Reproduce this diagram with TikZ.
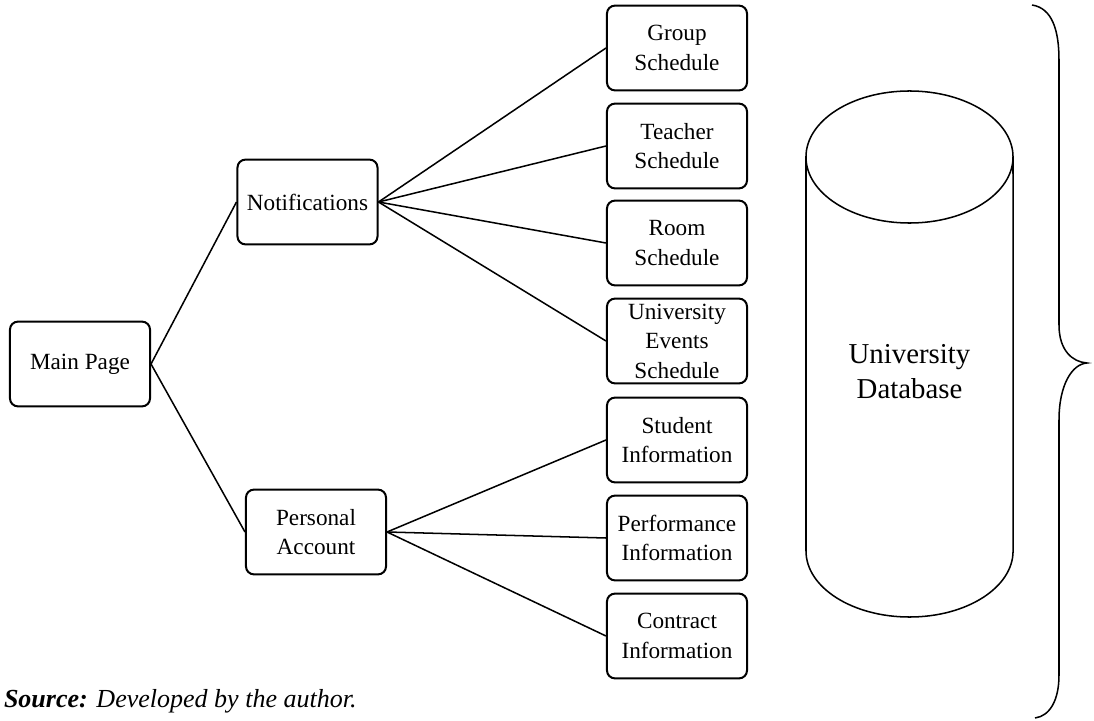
\documentclass[tikz,border=0pt]{standalone}
\usepackage{fontspec}
\setmainfont{Liberation Serif}
\usepackage{tikz}

\begin{document}
\begin{tikzpicture}[x=0.025cm, y=-0.025cm, line width=0.5mm,
    box/.style={draw, rounded corners=2mm, minimum width=3.5cm, minimum height=2.12cm,
      align=center, inner sep=1pt, font=\fontsize{16.5}{21}\selectfont}]
      \useasboundingbox (0,0) rectangle (1094,721);

      \node[box] (main)  at (80,364)  {Main Page};
      \node[box] (notif) at (307.5,202) {Notifications};
      \node[box] (pers)  at (316,532) {Personal\\Account};

      \node[box] (group)    at (677,48)  {Group\\Schedule};
      \node[box] (teacher)  at (677,146) {Teacher\\Schedule};
      \node[box] (room)     at (677,243) {Room\\Schedule};
      \node[box] (events)   at (677,341) {University\\Events\\Schedule};
      \node[box] (student)  at (677,440) {Student\\Information};
      \node[box] (perf)     at (677,538) {Performance\\Information};
      \node[box] (contract) at (677,636) {Contract\\Information};

      \draw[line width=0.38mm] (main.east) edge (notif.west)
               (main.east) edge (pers.west);
      \draw[line width=0.38mm] (notif.east) edge (group.west)
               (notif.east) edge (teacher.west)
               (notif.east) edge (room.west)
               (notif.east) edge (events.west);
      \draw[line width=0.38mm] (pers.east) edge (student.west)
               (pers.east) edge (perf.west)
               (pers.east) edge (contract.west);

      \draw[line width=0.38mm] (909.5,157) ellipse [x radius=2.5875cm, y radius=1.65cm];
      \draw[line width=0.38mm] (806,157) -- (806,551)
            arc[start angle=180, end angle=360, x radius=2.5875cm, y radius=1.65cm]
            -- (1013,157);
      \node[align=center, font=\fontsize{20.5}{25}\selectfont] (db) at (909.5,372) {University\\Database};

      \draw[line width=0.38mm] (1032,5) .. controls (1052,8) and (1059,30) .. (1059,60)
            -- (1059,325) .. controls (1059,350) and (1072,362) .. (1087,363)
            .. controls (1072,364) and (1059,385) .. (1059,420)
            -- (1059,675) .. controls (1059,700) and (1050,716) .. (1035,718);

      \node[anchor=base west, inner sep=0pt, font=\fontsize{18.5}{20}\selectfont\itshape] (src)
            at (3,707) {\textbf{Source:} Developed by the author.};
    \end{tikzpicture}
\end{document}
